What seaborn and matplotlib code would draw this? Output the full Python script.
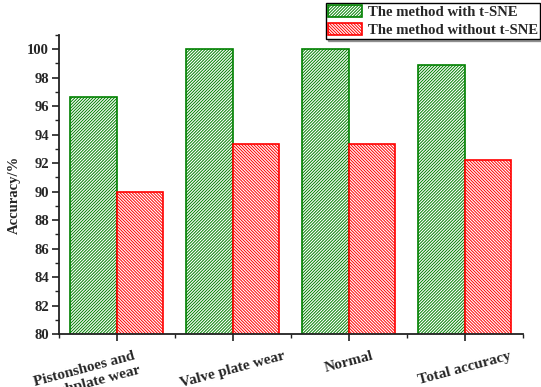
import matplotlib
matplotlib.use("Agg")
import matplotlib.pyplot as plt
import matplotlib.patches as mpatches
import matplotlib.transforms as mtransforms
from matplotlib.ticker import MultipleLocator
import pandas as pd
import seaborn as sns

categories = ["Pistonshoes and\nswashplate wear", "Valve plate wear", "Normal", "Total accuracy"]
with_tsne = [96.67, 100.0, 100.0, 98.89]
without_tsne = [90.0, 93.33, 93.33, 92.22]
series_names = ["The method with t-SNE", "The method without t-SNE"]

df = pd.DataFrame({
    "category": categories * 2,
    "accuracy": with_tsne + without_tsne,
    "method": [series_names[0]] * 4 + [series_names[1]] * 4,
})

sns.set_style("ticks")
plt.rcParams["font.family"] = ["Liberation Serif", "DejaVu Serif"]
plt.rcParams["font.weight"] = "bold"
plt.rcParams["hatch.linewidth"] = 0.7

fig = plt.figure(figsize=(5.41, 3.87), dpi=100)
ax = fig.add_axes([0.1085, 0.137, 0.858, 0.7726])

edge_colors = ["#008000", "#ff0000"]
hatches = ["/" * 11, "\\" * 11]

sns.barplot(data=df, x="category", y="accuracy", hue="method",
            hue_order=series_names, palette=edge_colors, width=0.8,
            legend=False, ax=ax)

for container, ec, h in zip(ax.containers, edge_colors, hatches):
    for bar in container:
        bar.set_facecolor("white")
        bar.set_edgecolor(ec)
        bar.set_hatch(h)
        bar.set_linewidth(1.2)

ax.set_ylim(80, 101)
ax.set_xlim(-0.5, 3.5)
ax.set_yticks(range(80, 101, 2))
ax.yaxis.set_minor_locator(MultipleLocator(1))
ax.xaxis.set_minor_locator(MultipleLocator(1, offset=0.5))

for side in ["top", "right"]:
    ax.spines[side].set_visible(False)
for side in ["left", "bottom"]:
    ax.spines[side].set_linewidth(1.3)
    ax.spines[side].set_color("#222222")

ax.tick_params(axis="both", which="major", length=5, width=1.2, color="#222222",
               labelsize=10.5)
ax.tick_params(axis="both", which="minor", length=3, width=1.0, color="#222222")
ax.tick_params(axis="y", which="major", pad=2)
ax.tick_params(axis="x", which="major", pad=6)

ax.set_xlabel("")
ax.set_ylabel("Accuracy/%", fontsize=10.5, fontweight="bold")
ax.yaxis.set_label_coords(-0.081, 0.465)

for lbl in ax.get_yticklabels():
    lbl.set_fontweight("bold")

for i, lbl in enumerate(ax.get_xticklabels()):
    lbl.set_rotation(15)
    lbl.set_ha("center")
    lbl.set_va("top")
    lbl.set_fontweight("bold")
    lbl.set_fontsize(11)
    if i == 0:
        lbl.set_transform(lbl.get_transform() +
                          mtransforms.ScaledTranslation(-0.30, 0, fig.dpi_scale_trans))

handles = [mpatches.Patch(facecolor="white", edgecolor=ec, hatch=h, linewidth=1.2)
           for ec, h in zip(edge_colors, hatches)]
leg = fig.legend(handles, series_names, loc="upper right",
                 bbox_to_anchor=(0.999, 0.993), frameon=True, fancybox=False,
                 shadow={"ox": 1.5, "oy": -1.5},
                 prop={"family": "Liberation Serif", "weight": "bold", "size": 10.6},
                 handlelength=2.25, handleheight=0.9, handletextpad=0.45,
                 borderpad=0.15, labelspacing=0.25, borderaxespad=0.0)
leg.get_frame().set_edgecolor("black")
leg.get_frame().set_linewidth(1.0)

fig.savefig("out.png", dpi=100)
